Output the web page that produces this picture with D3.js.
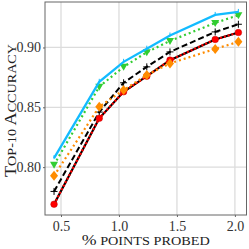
<!DOCTYPE html>
<html><head><meta charset="utf-8">
<script src="https://cdn.jsdelivr.net/npm/d3@7"></script>
<style>body{margin:0;background:#fff}svg{display:block}</style>
</head><body><svg id="c" width="249" height="249"></svg>
<script>
const xs = [0.44, 0.83, 1.04, 1.24, 1.44, 1.83, 2.03];
const blue   = [0.8075, 0.8713, 0.888, 0.899, 0.910, 0.9272, 0.9297];
const green  = [0.802, 0.8672, 0.8838, 0.896, 0.9055, 0.9205, 0.927];
const black  = [0.7797, 0.846, 0.8705, 0.8838, 0.8963, 0.913, 0.9194];
const orange = [0.7928, 0.8505, 0.8644, 0.877, 0.8867, 0.8988, 0.9047];
const red    = [0.769, 0.8408, 0.863, 0.876, 0.8894, 0.9067, 0.9125];
const xTicks = [0.5, 1.0, 1.5, 2.0];
const yTicks = [0.80, 0.85, 0.90];
const xLabelParts = [["%", 1], [" points probed", 0]];
const yLabelParts = [["T", 1], ["op-10 ", 0], ["A", 1], ["ccuracy", 0]];
const FONT = "'Liberation Serif', 'Times New Roman', serif";

const svg = d3.select("#c");
const L=45, R=246.5, T=2, B=215;
const x = d3.scaleLinear().domain([0.362, 2.10]).range([L, R]);
const y = d3.scaleLinear().domain([0.760, 0.938]).range([B, T]);

// grid
svg.append("g").selectAll("line").data(xTicks).join("line")
  .attr("x1", d=>x(d)).attr("x2", d=>x(d)).attr("y1", T).attr("y2", B)
  .attr("stroke", "#dcdcdc").attr("stroke-width", 1.3);
svg.append("g").selectAll("line").data(yTicks).join("line")
  .attr("y1", d=>y(d)).attr("y2", d=>y(d)).attr("x1", L).attr("x2", R)
  .attr("stroke", "#dcdcdc").attr("stroke-width", 1.3);

// axes
const xa = svg.append("g").attr("transform", `translate(0,${B})`)
  .call(d3.axisBottom(x).tickValues(xTicks).tickFormat(d3.format(".1f")).tickSize(2).tickPadding(4));
const ya = svg.append("g").attr("transform", `translate(${L},0)`)
  .call(d3.axisLeft(y).tickValues(yTicks).tickFormat(d3.format(".2f")).tickSize(2).tickPadding(2));
[xa, ya].forEach(a => {
  a.attr("font-family", FONT).attr("font-size", 14);
  a.select(".domain").remove();
  a.selectAll(".tick line").attr("stroke", "#666");
  a.selectAll(".tick text").attr("fill", "#333");
});

const line = d3.line().x((d,i)=>x(xs[i])).y(d=>y(d));
const g = svg.append("g");

function series(vals, color, width, dash, cap) {
  g.append("path").datum(vals).attr("d", line).attr("fill", "none")
    .attr("stroke", color).attr("stroke-width", width)
    .attr("stroke-dasharray", dash || null).attr("stroke-linecap", cap || "butt");
}

// black dashed with plus markers
series(black, "#000", 2, "6,3");
g.append("g").selectAll("g").data(black).join("g")
  .attr("transform", (d,i)=>`translate(${x(xs[i])},${y(d)})`)
  .each(function(){ const s=d3.select(this);
    s.append("line").attr("x1",-3.5).attr("x2",3.5).attr("stroke","#000").attr("stroke-width",1);
    s.append("line").attr("y1",-3.5).attr("y2",3.5).attr("stroke","#000").attr("stroke-width",1); });

// red: black solid under red dashes, red circles
series(red, "#000", 2.2);
series(red, "#ff0000", 2.2, "2,2");
g.append("g").selectAll("circle").data(red).join("circle")
  .attr("cx", (d,i)=>x(xs[i])).attr("cy", d=>y(d)).attr("r", 3.3).attr("fill", "#ff0000").attr("stroke","#c00000").attr("stroke-width",0.5);

// orange dotted, diamonds
series(orange, "#ff8c00", 2.2, "2,3");
g.append("g").selectAll("path").data(orange).join("path")
  .attr("transform", (d,i)=>`translate(${x(xs[i])},${y(d)})`)
  .attr("d", "M0,-5L4,0L0,5L-4,0Z").attr("fill", "#ff8c00");

// green dotted, down triangles
series(green, "#32cd32", 2.2, "2,3");
g.append("g").selectAll("path").data(green).join("path")
  .attr("transform", (d,i)=>`translate(${x(xs[i])},${y(d)})`)
  .attr("d", "M-4,-3L4,-3L0,4Z").attr("fill", "#32cd32");

// blue solid
series(blue, "#12bbff", 2.3);
g.append("g").selectAll("line").data(blue).join("line")
  .attr("x1", (d,i)=>x(xs[i])).attr("x2", (d,i)=>x(xs[i]))
  .attr("y1", d=>y(d)-3).attr("y2", d=>y(d)+1).attr("stroke","#12bbff").attr("stroke-width",1);

// frame
svg.append("rect").attr("x", L).attr("y", T).attr("width", R-L).attr("height", B-T)
  .attr("fill", "none").attr("stroke", "#666").attr("stroke-width", 1);

// labels with manual small caps
function smallCaps(sel, parts, big, small) {
  sel.selectAll("tspan").data(parts).join("tspan")
    .attr("font-size", d => d[1] ? big : small)
    .text(d => d[1] ? d[0] : d[0].toUpperCase());
}
const xl = svg.append("text").attr("x", (L+R)/2).attr("y", 245).attr("text-anchor", "middle")
  .attr("font-family", FONT).attr("fill", "#222")
  .attr("textLength", 128).attr("lengthAdjust", "spacingAndGlyphs");
smallCaps(xl, xLabelParts, 15, 12);
const yl = svg.append("text").attr("transform", `translate(16,${(T+B)/2+2}) rotate(-90)`).attr("text-anchor", "middle")
  .attr("font-family", FONT).attr("fill", "#222")
  .attr("textLength", 133).attr("lengthAdjust", "spacingAndGlyphs");
smallCaps(yl, yLabelParts, 16, 12.5);
</script></body></html>
